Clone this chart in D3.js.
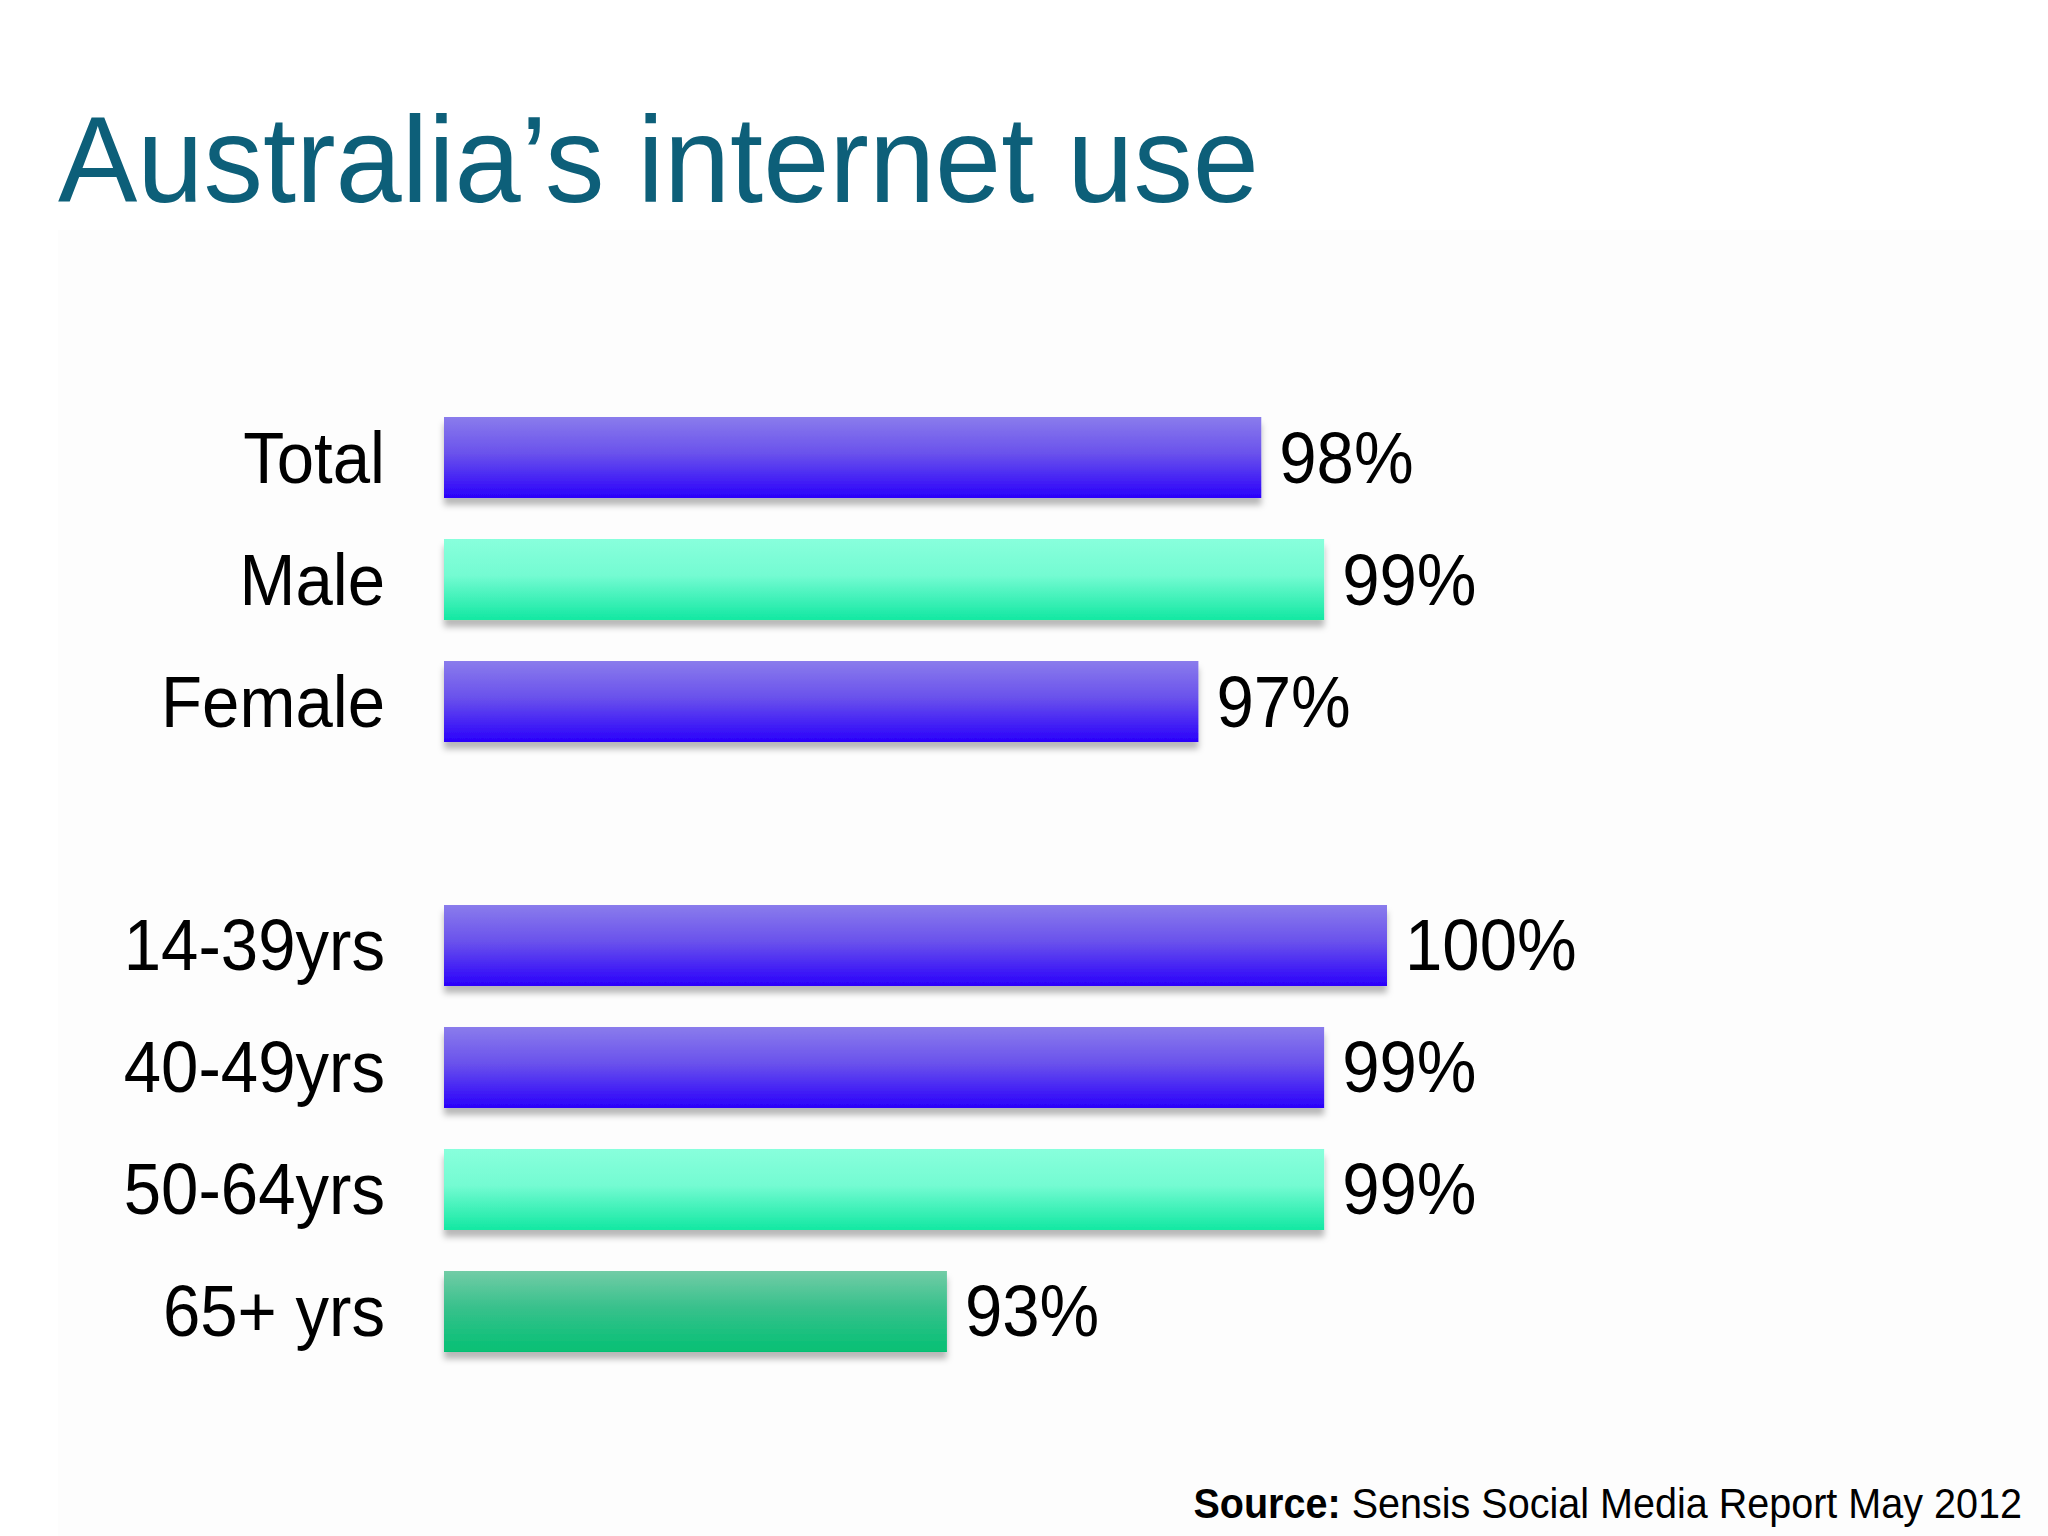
<!DOCTYPE html>
<html>
<head>
<meta charset="utf-8">
<script src="https://cdn.jsdelivr.net/npm/d3@7"></script>
<style>
  body { margin: 0; background: #ffffff; }
  svg { display: block; }
</style>
</head>
<body>
<div id="chart"></div>
<script>
// chart data
var categories = ["Total", "Male", "Female", "", "14-39yrs", "40-49yrs", "50-64yrs", "65+ yrs"];
var values = [98, 99, 97, null, 100, 99, 99, 93];
var value_labels = ["98%", "99%", "97%", "", "100%", "99%", "99%", "93%"];
var bar_styles = ["blue", "mint", "blue", "", "blue", "blue", "mint", "green"];

var title_text = "Australia\u2019s internet use";
var source_bold = "Source:";
var source_text = " Sensis Social Media Report May 2012";

var width = 2048, height = 1536;
var squeeze = 0.92; // the slide font is a little narrow

var svg = d3.select("#chart").append("svg")
  .attr("width", width)
  .attr("height", height);

var defs = svg.append("defs");

/* vertical gradients for the three bar colours */
var gradients = {
  blue:  ["#8a7cec", "#6a52ec", "#2a00fb"],
  mint:  ["#88ffdc", "#74fbd2", "#12e8a2"],
  green: ["#72cca6", "#38c18c", "#05c074"]
};
Object.keys(gradients).forEach(function(k) {
  var g = defs.append("linearGradient")
    .attr("id", "grad_" + k)
    .attr("x1", 0).attr("y1", 0).attr("x2", 0).attr("y2", 1);
  g.append("stop").attr("offset", "0%").attr("stop-color", gradients[k][0]);
  g.append("stop").attr("offset", "45%").attr("stop-color", gradients[k][1]);
  g.append("stop").attr("offset", "100%").attr("stop-color", gradients[k][2]);
});

var shadow = defs.append("filter").attr("id", "shadow")
  .attr("x", "-5%").attr("y", "-10%").attr("width", "110%").attr("height", "140%");
shadow.append("feDropShadow")
  .attr("dx", 0).attr("dy", 7).attr("stdDeviation", 3)
  .attr("flood-color", "#000").attr("flood-opacity", 0.28);

/* very faint slide panel behind the chart */
svg.append("rect")
  .attr("x", 58).attr("y", 230)
  .attr("width", width - 58).attr("height", height - 230)
  .attr("fill", "#fdfdfd");

/* title */
svg.append("text")
  .attr("transform", "translate(58,202) scale(0.975,1)")
  .attr("font-family", "Liberation Sans, Arial, sans-serif")
  .attr("font-size", 122)
  .attr("fill", "#0d5f79")
  .text(title_text);

var x = d3.scaleLinear()
  .domain([85, 100])
  .range([444, 1387]);

var y = d3.scaleBand()
  .domain(categories)
  .range([417, 1352])
  .paddingInner(0.336)
  .paddingOuter(0);

var rows = categories.map(function(c, i) {
  return { cat: c, value: values[i], label: value_labels[i], style: bar_styles[i] };
}).filter(function(d) { return d.value !== null; });

svg.selectAll(".bar")
  .data(rows)
 .enter().append("rect")
  .attr("class", "bar")
  .attr("x", x(85))
  .attr("y", function(d) { return y(d.cat); })
  .attr("width", function(d) { return x(d.value) - x(85); })
  .attr("height", y.bandwidth())
  .attr("fill", function(d) { return "url(#grad_" + d.style + ")"; })
  .attr("filter", "url(#shadow)");

/* category names, right aligned left of the bars */
svg.selectAll(".cat_label")
  .data(rows)
 .enter().append("text")
  .attr("class", "cat_label")
  .attr("transform", function(d) {
    return "translate(385," + (y(d.cat) + y.bandwidth() / 2 + 25) + ") scale(" + squeeze + ",1)";
  })
  .attr("text-anchor", "end")
  .attr("font-family", "Liberation Sans, Arial, sans-serif")
  .attr("font-size", 73)
  .attr("fill", "#000")
  .text(function(d) { return d.cat; });

/* value labels at the end of each bar */
svg.selectAll(".val_label")
  .data(rows)
 .enter().append("text")
  .attr("class", "val_label")
  .attr("transform", function(d) {
    return "translate(" + (x(d.value) + 18) + "," + (y(d.cat) + y.bandwidth() / 2 + 25) + ") scale(" + squeeze + ",1)";
  })
  .attr("font-family", "Liberation Sans, Arial, sans-serif")
  .attr("font-size", 73)
  .attr("fill", "#000")
  .text(function(d) { return d.label; });

/* source line */
var src = svg.append("text")
  .attr("transform", "translate(2022,1518) scale(" + squeeze + ",1)")
  .attr("text-anchor", "end")
  .attr("font-family", "Liberation Sans, Arial, sans-serif")
  .attr("font-size", 43)
  .attr("fill", "#000");
src.append("tspan").attr("font-weight", "bold").text(source_bold);
src.append("tspan").text(source_text);
</script>
</body>
</html>
